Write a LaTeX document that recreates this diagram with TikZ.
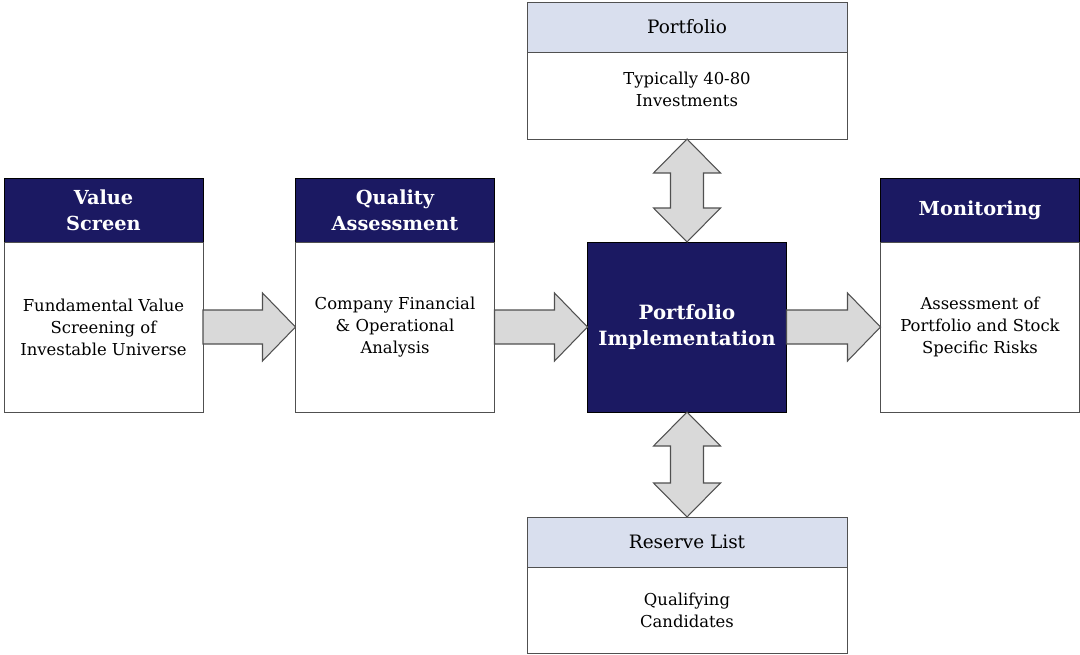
\documentclass[tikz,border=0pt]{standalone}
\usepackage{fontspec}
\setmainfont{DejaVu Serif}
\usetikzlibrary{positioning,calc}
\definecolor{navy}{RGB}{27,25,98}
\definecolor{paleblue}{RGB}{217,223,238}
\definecolor{arrowgray}{RGB}{217,217,217}
\definecolor{edgegray}{RGB}{80,80,80}
\newcommand{\colw}{3.98cm}
\newcommand{\headh}{1.28cm}
\newcommand{\bodyh}{3.4cm}
\newcommand{\rowy}{-6.54}
% block arrow from the east side of #1 to the west side of #2
\newcommand{\rightblock}[2]{%
  \draw[blockarrow] ($(#1.east)+(0,0.34)$) -- ($(#2.west)+(-0.66,0.34)$)
    -- ($(#2.west)+(-0.66,0.68)$) -- (#2.west) -- ($(#2.west)+(-0.66,-0.68)$)
    -- ($(#2.west)+(-0.66,-0.34)$) -- ($(#1.east)+(0,-0.34)$) -- cycle;}
% two-headed block arrow from the south of #1 to the north of #2
\newcommand{\updownblock}[2]{%
  \draw[blockarrow] (#1.south) -- ($(#1.south)+(0.67,-0.68)$) -- ($(#1.south)+(0.33,-0.68)$)
    -- ($(#2.north)+(0.33,0.68)$) -- ($(#2.north)+(0.67,0.68)$) -- (#2.north)
    -- ($(#2.north)+(-0.67,0.68)$) -- ($(#2.north)+(-0.33,0.68)$)
    -- ($(#1.south)+(-0.33,-0.68)$) -- ($(#1.south)+(-0.67,-0.68)$) -- cycle;}
\begin{document}
\begin{tikzpicture}
  \tikzset{darkhead/.style={draw=black, fill=navy, text=white, font=\fontsize{11}{14.7}\selectfont\bfseries, align=center, minimum width=\colw, minimum height=\headh, inner sep=0pt, outer sep=0pt}}
  \tikzset{lighthead/.style={draw=edgegray, fill=paleblue, font=\fontsize{10.5}{13}\selectfont, minimum width=6.4cm, minimum height=1cm, inner sep=0pt, outer sep=0pt}}
  \tikzset{stagebody/.style={draw=edgegray, fill=white, font=\fontsize{9.35}{12.5}\selectfont, align=center, minimum width=\colw, minimum height=\bodyh, inner sep=0pt, outer sep=0pt}}
  \tikzset{listbody/.style={stagebody, minimum width=6.4cm, minimum height=1.74cm}}
  \tikzset{blockarrow/.style={draw=edgegray, fill=arrowgray, line width=0.6pt, line join=miter}}
  \useasboundingbox (0,0) rectangle (21.6,-13.08);

  \node[darkhead] (vshead) at (2.07, -4.2) {Value\\Screen};
  \node[stagebody, below=0pt of vshead] (vsbody) {Fundamental Value\\Screening of\\Investable Universe};
  \node[darkhead] (qahead) at (7.9, -4.2) {Quality\\Assessment};
  \node[stagebody, below=0pt of qahead] (qabody) {Company Financial\\\& Operational\\Analysis};
  \node[darkhead, minimum height=\bodyh, font=\fontsize{11.2}{14.7}\selectfont\bfseries] (impl) at (13.74, \rowy) {Portfolio\\Implementation};
  \node[darkhead] (mohead) at (19.6, -4.2) {Monitoring};
  \node[stagebody, below=0pt of mohead] (mobody) {Assessment of\\Portfolio and Stock\\Specific Risks};

  \node[lighthead] (pfhead) at (13.74, -0.54) {Portfolio};
  \node[listbody, below=0pt of pfhead] (pfbody) {Typically 40-80\\Investments\\[-5.5pt]};
  \node[lighthead] (rlhead) at (13.74, -10.84) {Reserve List};
  \node[listbody, minimum height=1.72cm, below=0pt of rlhead] (rlbody) {Qualifying\\Candidates};

  \rightblock{vsbody}{qabody}
  \rightblock{qabody}{impl}
  \rightblock{impl}{mobody}
  \updownblock{pfbody}{impl}
  \updownblock{impl}{rlhead}
\end{tikzpicture}
\end{document}
